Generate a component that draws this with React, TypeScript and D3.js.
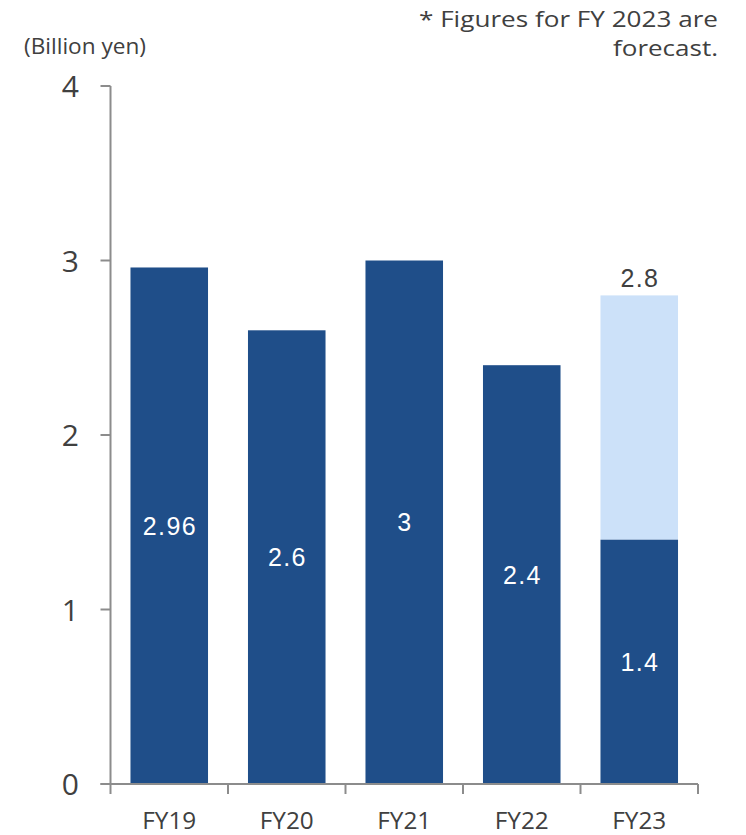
import React from "react";
import * as d3 from "d3";

const categories = ["FY19", "FY20", "FY21", "FY22", "FY23"];
const actualValues = [2.96, 2.6, 3, 2.4, 1.4];
const forecastTotals = [null, null, null, null, 2.8] as (number | null)[];
const yTicks = [0, 1, 2, 3, 4];
const unitLabel = "(Billion yen)";
const noteLines = ["* Figures for FY 2023 are", "forecast."];

const W = 746;
const H = 835;
const m = { left: 110.5, right: 48, top: 86, bottom: 51 };

export default function App() {
  const x = d3
    .scaleBand<string>()
    .domain(categories)
    .range([m.left, W - m.right])
    .paddingInner(0.34)
    .paddingOuter(0.17);
  const y = d3.scaleLinear().domain([0, 4]).range([H - m.bottom, m.top]);
  const axisColor = "#8c8c8c";
  const textColor = "#404040";
  const dark = "#1f4e89";
  const light = "#cce1f9";
  const sansUI = "'Open Sans', 'Noto Sans', sans-serif";
  const arial = "'Liberation Sans', Arial, sans-serif";
  const step = x.step();
  const x0 = m.left;
  const x1 = W - m.right;
  const y0 = y(0);

  return (
    <svg width={W} height={H} style={{ position: "absolute", left: 0, top: 0 }}>
      <rect width={W} height={H} fill="#fff" />
      {/* bars */}
      {categories.map((c, i) => {
        const bx = x(c)!;
        const bw = x.bandwidth();
        const v = actualValues[i];
        const f = forecastTotals[i];
        return (
          <g key={c}>
            {f != null && (
              <rect x={bx} y={y(f)} width={bw} height={y(v) - y(f)} fill={light} />
            )}
            <rect x={bx} y={y(v)} width={bw} height={y0 - y(v)} fill={dark} />
            <text
              x={bx + bw / 2 + 0.7}
              y={(y(v) + y0) / 2}
              dy="0.36em"
              textAnchor="middle"
              fill="#fff"
              fontFamily={arial}
              fontSize={25}
              letterSpacing={1.4}
            >
              {String(v)}
            </text>
            {f != null && (
              <text
                x={bx + bw / 2 + 0.7}
                y={y(f) - 17}
                dy="0.36em"
                textAnchor="middle"
                fill={textColor}
                fontFamily={arial}
                fontSize={25}
                letterSpacing={1.4}
              >
                {String(f)}
              </text>
            )}
          </g>
        );
      })}
      {/* y axis */}
      <line x1={x0} x2={x0} y1={y(4)} y2={y0} stroke={axisColor} strokeWidth={2} />
      {yTicks.map((t) => (
        <g key={t}>
          <line x1={x0 - 10} x2={x0} y1={y(t)} y2={y(t)} stroke={axisColor} strokeWidth={2} />
          <text
            x={79}
            y={y(t) + 11}
            textAnchor="end"
            fill={textColor}
            fontFamily={sansUI}
            fontSize={30}
          >
            {t}
          </text>
        </g>
      ))}
      {/* x axis */}
      <line x1={x0 - 10} x2={x1} y1={y0} y2={y0} stroke={axisColor} strokeWidth={2} />
      {d3.range(categories.length + 1).map((i) => (
        <line
          key={i}
          x1={x0 + i * step}
          x2={x0 + i * step}
          y1={y0}
          y2={y0 + 10}
          stroke={axisColor}
          strokeWidth={2}
        />
      ))}
      {categories.map((c) => (
        <text
          key={c}
          x={x(c)! + x.bandwidth() / 2}
          y={829}
          textAnchor="middle"
          fill={textColor}
          fontFamily={sansUI}
          fontSize={24}
          textLength={54}
          lengthAdjust="spacingAndGlyphs"
        >
          {c}
        </text>
      ))}
      <text
        x={24}
        y={54}
        fill={textColor}
        fontFamily={sansUI}
        fontSize={22}
        textLength={122}
        lengthAdjust="spacingAndGlyphs"
      >
        {unitLabel}
      </text>
      <text
        x={718}
        y={27}
        textAnchor="end"
        fill={textColor}
        fontFamily={sansUI}
        fontSize={22.5}
        textLength={299}
        lengthAdjust="spacingAndGlyphs"
      >
        {noteLines[0]}
      </text>
      <text
        x={718}
        y={56}
        textAnchor="end"
        fill={textColor}
        fontFamily={sansUI}
        fontSize={22.5}
        textLength={105}
        lengthAdjust="spacingAndGlyphs"
      >
        {noteLines[1]}
      </text>
    </svg>
  );
}
